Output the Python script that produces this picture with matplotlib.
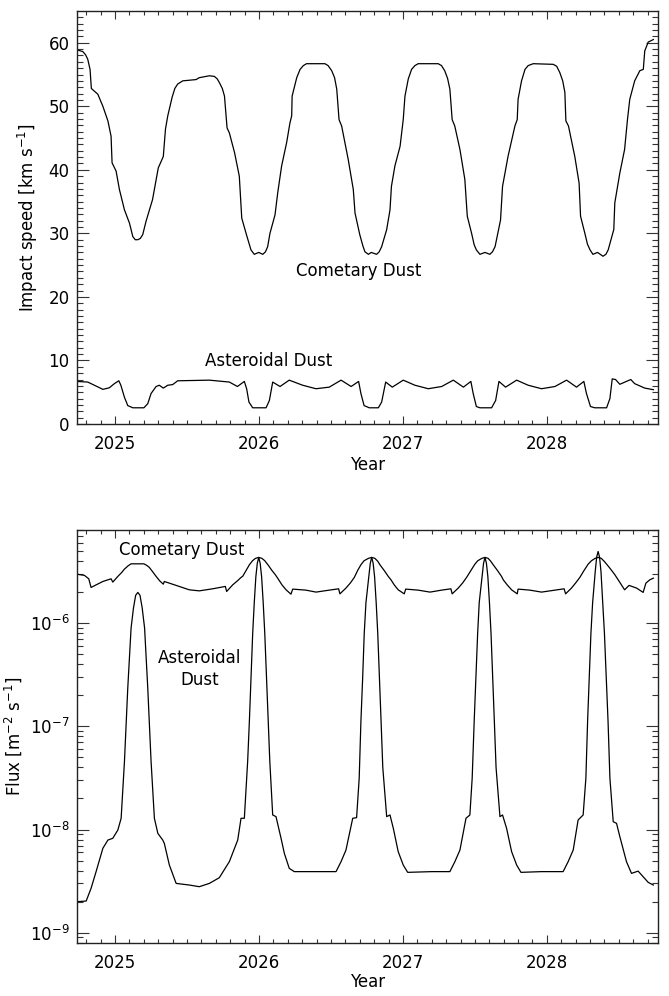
import numpy as np
import matplotlib
matplotlib.use("Agg")
import matplotlib.pyplot as plt
from matplotlib.ticker import MultipleLocator, FixedLocator, NullFormatter, LogFormatterSciNotation

# ---------------- data ----------------
# Top panel: impact speed [km/s]
comet_speed_year = [2024.733, 2024.776, 2024.795, 2024.81, 2024.826, 2024.835, 2024.88, 2024.915,
                    2024.95, 2024.972, 2024.979, 2025.007, 2025.03, 2025.065, 2025.10, 2025.123,
                    2025.14, 2025.158, 2025.175, 2025.192, 2025.215, 2025.26, 2025.30, 2025.335,
                    2025.35, 2025.366, 2025.396, 2025.415, 2025.435, 2025.47, 2025.5625, 2025.585,
                    2025.655, 2025.69, 2025.71, 2025.725, 2025.745, 2025.76, 2025.778, 2025.794,
                    2025.83, 2025.863, 2025.88, 2025.91, 2025.944, 2025.967, 2025.998, 2026.026,
                    2026.045, 2026.06, 2026.076, 2026.111, 2026.13, 2026.157, 2026.192, 2026.215,
                    2026.227, 2026.23, 2026.262, 2026.285, 2026.308, 2026.33, 2026.458, 2026.48,
                    2026.505, 2026.525, 2026.54, 2026.556, 2026.574, 2026.62, 2026.655, 2026.667,
                    2026.70, 2026.722, 2026.736, 2026.76, 2026.78, 2026.817, 2026.835, 2026.852,
                    2026.887, 2026.91, 2026.92, 2026.944, 2026.98, 2027.002, 2027.014, 2027.037,
                    2027.06, 2027.083, 2027.106, 2027.245, 2027.268, 2027.29, 2027.31, 2027.326,
                    2027.342, 2027.36, 2027.396, 2027.43, 2027.447, 2027.477, 2027.495, 2027.51,
                    2027.535, 2027.57, 2027.604, 2027.622, 2027.64, 2027.678, 2027.692, 2027.73,
                    2027.778, 2027.794, 2027.80, 2027.824, 2027.848, 2027.87, 2027.905, 2028.044,
                    2028.068, 2028.09, 2028.11, 2028.125, 2028.132, 2028.15, 2028.194, 2028.224,
                    2028.234, 2028.264, 2028.282, 2028.30, 2028.32, 2028.352, 2028.39, 2028.41,
                    2028.426, 2028.465, 2028.472, 2028.507, 2028.54, 2028.56, 2028.576, 2028.61,
                    2028.646, 2028.67, 2028.68, 2028.704, 2028.74]
comet_speed = [58.9, 58.6, 58.1, 57.4, 55.8, 52.8, 51.9, 50.0,
               47.7, 45.3, 41.1, 39.8, 36.9, 33.7, 31.6, 29.5,
               29.0, 29.0, 29.2, 29.8, 31.9, 35.3, 40.3, 42.1,
               46.4, 48.5, 51.4, 52.8, 53.5, 54.0, 54.2, 54.5,
               54.8, 54.7, 54.3, 53.7, 52.8, 51.6, 46.6, 45.8,
               42.7, 39.0, 32.4, 30.0, 27.4, 26.7, 27.0, 26.7,
               27.1, 27.9, 30.0, 32.9, 36.4, 40.6, 44.3, 47.4,
               48.5, 51.6, 54.5, 55.8, 56.4, 56.7, 56.7, 56.4,
               55.6, 54.5, 52.7, 47.9, 46.9, 41.6, 36.9, 33.2,
               29.8, 28.0, 27.1, 26.7, 27.0, 26.7, 27.1, 27.9,
               30.6, 33.7, 37.4, 40.6, 43.7, 47.9, 51.6, 54.3,
               55.8, 56.4, 56.7, 56.7, 56.4, 55.6, 54.4, 52.7,
               47.9, 46.9, 43.2, 38.5, 32.7, 30.0, 28.2, 27.4,
               26.7, 27.0, 26.7, 27.1, 27.9, 32.1, 37.4, 42.1,
               46.9, 47.9, 51.1, 54.0, 55.8, 56.4, 56.7, 56.6,
               56.3, 55.3, 54.0, 52.2, 47.7, 46.9, 42.1, 37.9,
               32.7, 30.0, 28.3, 27.4, 26.7, 27.0, 26.4, 26.7,
               27.4, 30.6, 34.8, 39.5, 43.2, 47.9, 51.1, 54.0,
               55.6, 55.8, 58.7, 60.1, 60.5]

aster_speed_year = [2024.733, 2024.81, 2024.856, 2024.915, 2024.96, 2024.995, 2025.026, 2025.04,
                    2025.065, 2025.088, 2025.123, 2025.20, 2025.227, 2025.25, 2025.285, 2025.307,
                    2025.335, 2025.366, 2025.40, 2025.435, 2025.655, 2025.794, 2025.85, 2025.898,
                    2025.914, 2025.93, 2025.956, 2026.049, 2026.072, 2026.095, 2026.146, 2026.21,
                    2026.303, 2026.396, 2026.488, 2026.57, 2026.64, 2026.692, 2026.708, 2026.73,
                    2026.766, 2026.829, 2026.852, 2026.88, 2026.926, 2027.002, 2027.083, 2027.176,
                    2027.269, 2027.35, 2027.42, 2027.472, 2027.488, 2027.51, 2027.535, 2027.616,
                    2027.644, 2027.667, 2027.713, 2027.79, 2027.87, 2027.963, 2028.056, 2028.137,
                    2028.206, 2028.257, 2028.275, 2028.303, 2028.333, 2028.415, 2028.438, 2028.454,
                    2028.477, 2028.507, 2028.583, 2028.61, 2028.68, 2028.74]
aster_speed = [6.7, 6.6, 6.1, 5.45, 5.7, 6.35, 6.8, 6.1,
               4.2, 2.9, 2.55, 2.55, 3.2, 4.8, 5.9, 6.1,
               5.65, 6.1, 6.2, 6.8, 6.9, 6.6, 5.9, 6.7,
               5.55, 3.45, 2.55, 2.55, 3.7, 6.6, 5.9, 6.9,
               6.1, 5.55, 5.8, 6.9, 5.9, 6.7, 4.8, 2.9,
               2.55, 2.55, 3.45, 6.6, 5.8, 6.9, 6.1, 5.55,
               5.9, 6.9, 5.8, 6.7, 4.8, 2.75, 2.55, 2.55,
               3.7, 6.7, 5.8, 6.9, 6.1, 5.55, 5.9, 6.9,
               5.8, 6.7, 4.8, 2.75, 2.55, 2.55, 4.0, 7.1,
               7.0, 6.25, 7.0, 6.35, 5.65, 5.4]

# Bottom panel: flux [m^-2 s^-1] (log10 values)
comet_flux_year = [2024.733, 2024.787, 2024.817, 2024.833, 2024.868, 2024.915, 2024.972, 2024.984,
                   2025.019, 2025.045, 2025.065, 2025.09, 2025.111, 2025.20, 2025.22, 2025.238,
                   2025.26, 2025.285, 2025.31, 2025.335, 2025.342, 2025.424, 2025.516, 2025.585,
                   2025.678, 2025.766, 2025.775, 2025.817, 2025.85, 2025.875, 2025.887, 2025.91,
                   2025.933, 2025.955, 2025.975, 2025.998, 2026.02, 2026.04, 2026.065, 2026.09,
                   2026.113, 2026.13, 2026.16, 2026.188, 2026.222, 2026.234, 2026.326, 2026.396,
                   2026.488, 2026.553, 2026.562, 2026.604, 2026.635, 2026.662, 2026.685, 2026.708,
                   2026.73, 2026.76, 2026.783, 2026.805, 2026.825, 2026.84, 2026.87, 2026.898,
                   2026.917, 2026.94, 2026.967, 2027.009, 2027.019, 2027.106, 2027.188, 2027.269,
                   2027.333, 2027.342, 2027.384, 2027.415, 2027.442, 2027.472, 2027.50, 2027.52,
                   2027.548, 2027.57, 2027.592, 2027.61, 2027.627, 2027.657, 2027.685, 2027.697,
                   2027.725, 2027.755, 2027.794, 2027.80, 2027.882, 2027.963, 2028.056, 2028.12,
                   2028.13, 2028.171, 2028.20, 2028.229, 2028.258, 2028.287, 2028.31, 2028.335,
                   2028.356, 2028.378, 2028.398, 2028.415, 2028.445, 2028.472, 2028.50, 2028.518,
                   2028.54, 2028.571, 2028.623, 2028.669, 2028.688, 2028.715, 2028.74]
comet_flux_log = [-5.525, -5.537, -5.57, -5.654, -5.629, -5.596, -5.57, -5.602,
                  -5.547, -5.51, -5.476, -5.445, -5.425, -5.425, -5.44, -5.46,
                  -5.50, -5.547, -5.59, -5.622, -5.596, -5.634, -5.677, -5.687,
                  -5.667, -5.644, -5.693, -5.629, -5.59, -5.557, -5.545, -5.49,
                  -5.434, -5.395, -5.372, -5.363, -5.372, -5.395, -5.44, -5.49,
                  -5.53, -5.565, -5.63, -5.677, -5.719, -5.67, -5.68, -5.699,
                  -5.68, -5.667, -5.716, -5.66, -5.61, -5.557, -5.49, -5.434,
                  -5.395, -5.372, -5.363, -5.372, -5.40, -5.434, -5.49, -5.547,
                  -5.58, -5.63, -5.677, -5.716, -5.67, -5.68, -5.699, -5.68,
                  -5.667, -5.716, -5.66, -5.61, -5.557, -5.49, -5.428, -5.395,
                  -5.372, -5.363, -5.372, -5.40, -5.434, -5.49, -5.547, -5.58,
                  -5.63, -5.677, -5.716, -5.67, -5.68, -5.699, -5.68, -5.667,
                  -5.716, -5.66, -5.61, -5.557, -5.49, -5.428, -5.395, -5.372,
                  -5.363, -5.372, -5.40, -5.428, -5.48, -5.53, -5.59, -5.629,
                  -5.677, -5.634, -5.66, -5.702, -5.612, -5.58, -5.564]

aster_flux_year = [2024.74, 2024.799, 2024.833, 2024.868, 2024.915, 2024.95, 2024.984, 2025.019,
                   2025.042, 2025.065, 2025.088, 2025.111, 2025.128, 2025.143, 2025.158, 2025.173,
                   2025.188, 2025.205, 2025.227, 2025.25, 2025.273, 2025.297, 2025.331, 2025.342,
                   2025.377, 2025.424, 2025.516, 2025.585, 2025.655, 2025.724, 2025.794, 2025.852,
                   2025.875, 2025.898, 2025.921, 2025.933, 2025.944, 2025.956, 2025.967, 2025.978,
                   2025.988, 2025.998, 2026.008, 2026.018, 2026.029, 2026.040, 2026.052, 2026.063,
                   2026.075, 2026.095, 2026.118, 2026.153, 2026.176, 2026.21, 2026.245, 2026.396,
                   2026.535, 2026.57, 2026.604, 2026.651, 2026.678, 2026.696, 2026.708, 2026.72,
                   2026.731, 2026.743, 2026.763, 2026.773, 2026.783, 2026.793, 2026.803, 2026.814,
                   2026.825, 2026.837, 2026.848, 2026.86, 2026.887, 2026.91, 2026.933, 2026.967,
                   2027.002, 2027.033, 2027.20, 2027.326, 2027.361, 2027.396, 2027.438, 2027.465,
                   2027.481, 2027.495, 2027.507, 2027.519, 2027.530, 2027.550, 2027.560, 2027.57,
                   2027.58, 2027.590, 2027.601, 2027.612, 2027.624, 2027.635, 2027.647, 2027.674,
                   2027.692, 2027.72, 2027.755, 2027.79, 2027.82, 2027.963, 2028.113, 2028.148,
                   2028.183, 2028.217, 2028.252, 2028.271, 2028.283, 2028.294, 2028.306, 2028.318,
                   2028.336, 2028.346, 2028.356, 2028.366, 2028.376, 2028.388, 2028.400, 2028.413,
                   2028.425, 2028.438, 2028.461, 2028.484, 2028.507, 2028.553, 2028.588, 2028.634,
                   2028.669, 2028.704, 2028.74]
aster_flux_log = [-8.699, -8.693, -8.570, -8.408, -8.182, -8.102, -8.085, -8.005,
                  -7.891, -7.341, -6.63, -6.048, -5.85, -5.73, -5.702, -5.73,
                  -5.85, -6.048, -6.63, -7.341, -7.891, -8.037, -8.102, -8.134,
                  -8.344, -8.522, -8.538, -8.554, -8.522, -8.467, -8.311, -8.102,
                  -7.891, -7.891, -7.341, -6.95, -6.533, -6.10, -5.80, -5.55,
                  -5.42, -5.363, -5.42, -5.55, -5.80, -6.10, -6.533, -6.95,
                  -7.341, -7.859, -7.875, -8.085, -8.231, -8.376, -8.408, -8.408,
                  -8.408, -8.311, -8.199, -7.891, -7.885, -7.503, -6.95, -6.533,
                  -6.10, -5.80, -5.55, -5.42, -5.363, -5.42, -5.55, -5.80,
                  -6.10, -6.533, -6.95, -7.40, -7.875, -7.859, -7.988, -8.214,
                  -8.344, -8.415, -8.408, -8.408, -8.311, -8.199, -7.891, -7.859,
                  -7.503, -6.95, -6.533, -6.10, -5.80, -5.55, -5.42, -5.363,
                  -5.42, -5.55, -5.80, -6.10, -6.533, -6.95, -7.40, -7.875,
                  -7.859, -7.988, -8.214, -8.344, -8.415, -8.408, -8.408, -8.311,
                  -8.199, -7.908, -7.859, -7.503, -6.95, -6.533, -6.10, -5.80,
                  -5.50, -5.36, -5.305, -5.36, -5.50, -5.80, -6.10, -6.533,
                  -6.95, -7.503, -7.924, -7.94, -8.069, -8.311, -8.425, -8.403,
                  -8.457, -8.512, -8.538]

x_limits = (2024.733, 2028.77)
x_major_ticks = [2025, 2026, 2027, 2028]
speed_limits = (0, 65)
speed_ticks = [0, 10, 20, 30, 40, 50, 60]
flux_limits = (8e-10, 8e-6)
flux_ticks = [1e-9, 1e-8, 1e-7, 1e-6]

# ---------------- figure ----------------
plt.rcParams['font.family'] = ['DejaVu Sans']
plt.rcParams['font.size'] = 12
plt.rcParams['mathtext.default'] = 'regular'

fig = plt.figure(figsize=(6.69, 9.96), dpi=100)
ax1 = fig.add_axes([0.1146, 0.5743, 0.8685, 0.4147])
ax2 = fig.add_axes([0.1146, 0.0535, 0.8685, 0.4144])

lc = 'black'
lw = 0.9

ax1.plot(comet_speed_year, comet_speed, color=lc, lw=lw)
ax1.plot(aster_speed_year, aster_speed, color=lc, lw=lw)
ax1.set_xlim(*x_limits)
ax1.set_ylim(*speed_limits)
ax1.yaxis.set_major_locator(FixedLocator(speed_ticks))
ax1.yaxis.set_minor_locator(FixedLocator(np.arange(1, 65, 1.0)))
ax1.set_ylabel('Impact speed [km s$^{-1}$]', fontsize=12, labelpad=6)
ax1.text(2026.69, 24.0, 'Cometary Dust', ha='center', va='center', fontsize=12)
ax1.text(2026.066, 9.9, 'Asteroidal Dust', ha='center', va='center', fontsize=12)

ax2.semilogy(comet_flux_year, 10.0 ** np.array(comet_flux_log), color=lc, lw=lw)
ax2.semilogy(aster_flux_year, 10.0 ** np.array(aster_flux_log), color=lc, lw=lw)
ax2.set_xlim(*x_limits)
ax2.set_ylim(*flux_limits)
ax2.yaxis.set_major_locator(FixedLocator(flux_ticks))
ax2.yaxis.set_major_formatter(LogFormatterSciNotation())
minor_flux = [m * d for d in [1e-10, 1e-9, 1e-8, 1e-7, 1e-6] for m in range(2, 10)
              if flux_limits[0] <= m * d <= flux_limits[1]]
ax2.yaxis.set_minor_locator(FixedLocator(minor_flux))
ax2.yaxis.set_minor_formatter(NullFormatter())
ax2.set_ylabel('Flux [m$^{-2}$ s$^{-1}$]', fontsize=12, labelpad=4)
ax2.text(2025.46, 5.14e-6, 'Cometary Dust', ha='center', va='center', fontsize=12)
ax2.text(2025.588, 3.6e-7, 'Asteroidal\nDust', ha='center', va='center', fontsize=12,
         linespacing=1.3)

x_minor = [t for t in np.arange(2024.8, 2028.8, 0.1) if round(t, 1) not in x_major_ticks]
for ax in (ax1, ax2):
    ax.xaxis.set_major_locator(FixedLocator(x_major_ticks))
    ax.set_xticklabels([str(t) for t in x_major_ticks])
    ax.xaxis.set_minor_locator(FixedLocator(x_minor))
    ax.tick_params(axis='both', which='both', direction='in', top=True, right=True,
                   labelsize=12, width=0.8, color='#333333')
    ax.tick_params(axis='x', which='major', length=6, pad=8)
    ax.tick_params(axis='x', which='minor', length=3)
    ax.tick_params(axis='y', which='major', length=8.5, pad=5)
    ax.tick_params(axis='y', which='minor', length=4.5)
    for s in ax.spines.values():
        s.set_linewidth(1.0)
        s.set_color('#222222')

ax1.set_xlabel('Year', fontsize=12, labelpad=2)
ax2.set_xlabel('Year', fontsize=12, labelpad=1)

fig.savefig('out.png', dpi=100)
